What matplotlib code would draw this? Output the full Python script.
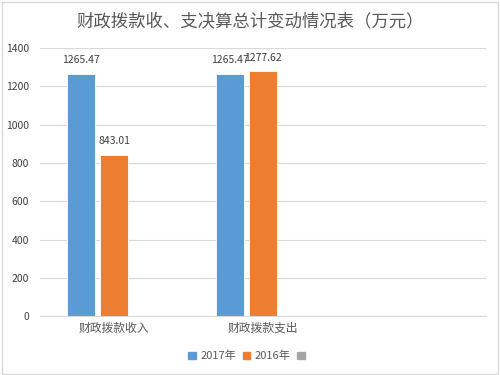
import matplotlib
matplotlib.use("Agg")
import matplotlib.pyplot as plt
import numpy as np
from matplotlib.patches import Rectangle

plt.rcParams["font.family"] = ["Noto Sans CJK SC", "DejaVu Sans"]

categories = ["财政拨款收入", "财政拨款支出", ""]
series_names = ["2017年", "2016年", " "]
values_2017 = [1265.47, 1265.47, np.nan]
values_2016 = [843.01, 1277.62, np.nan]
values_3 = [np.nan, np.nan, np.nan]
colors = ["#5b9bd5", "#ed7d31", "#a5a5a5"]

fig = plt.figure(figsize=(5, 3.75), dpi=100)
ax = fig.add_axes([0.08, 0.157, 0.892, 0.715])

x = np.arange(len(categories))
width = 0.19
step = 0.222
all_series = [values_2017, values_2016, values_3]
handles = []
for i, (vals, name, c) in enumerate(zip(all_series, series_names, colors)):
    pos = x + (i - 1) * step
    ax.bar(pos, vals, width, color=c, edgecolor="white", linewidth=0.6)
    handles.append(Rectangle((0, 0), 1, 1, color=c))
    for p, v in zip(pos, vals):
        if not np.isnan(v):
            ax.text(p, v + 45, f"{v:.2f}", ha="center", va="bottom",
                    fontsize=7.5, color="#404040")

ax.set_xlim(-0.5, 2.5)
ax.set_ylim(0, 1400)
ax.set_yticks(range(0, 1401, 200))
ax.set_xticks(x)
ax.set_xticklabels(categories, fontsize=8.5, color="#595959")
ax.tick_params(axis="y", labelsize=7.5, colors="#404040", length=0, pad=8)
ax.tick_params(axis="x", length=0, pad=4)
ax.grid(axis="y", color="#d9d9d9", linewidth=0.8)
ax.set_axisbelow(True)
for s in ["top", "right", "left"]:
    ax.spines[s].set_visible(False)
ax.spines["bottom"].set_color("#d9d9d9")

fig.suptitle("财政拨款收、支决算总计变动情况表（万元）", y=0.965,
             fontsize=12.5, color="#595959")

ax.legend(handles, series_names, loc="center", bbox_to_anchor=(0.5, 0.05),
          bbox_transform=fig.transFigure, ncol=3, frameon=False, fontsize=8,
          handlelength=0.7, handleheight=0.7, handletextpad=0.4,
          columnspacing=0.6, labelcolor="#595959")

fig.patches.append(Rectangle((0.004, 0.004), 0.992, 0.992, transform=fig.transFigure,
                             fill=False, edgecolor="#d9d9d9", linewidth=1))

fig.savefig("out.png", dpi=100)
